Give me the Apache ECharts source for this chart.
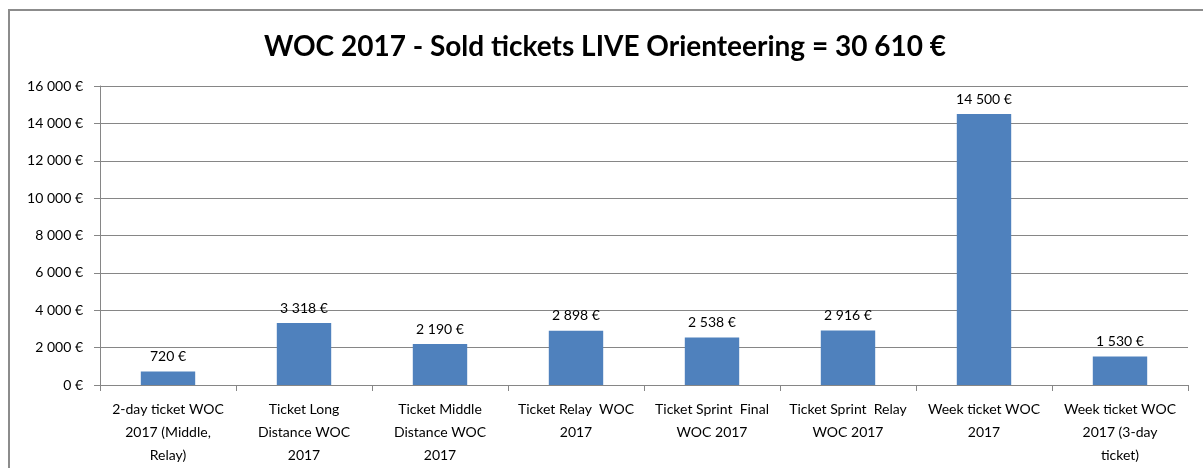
<!DOCTYPE html>
<html>
<head>
<meta charset="utf-8">
<script src="https://cdn.jsdelivr.net/npm/echarts@6/dist/echarts.min.js"></script>
<style>
    html, body { margin: 0; padding: 0; background: #fff; }
    #chart { width: 1203px; height: 468px; }
</style>
</head>
<body>
<div id="chart"></div>
<script>
    // ticket types (with the line breaks used on the axis) and sold amounts (EUR)
    var categories = [
        '2-day ticket WOC\n2017 (Middle,\nRelay)',
        'Ticket Long\nDistance WOC\n2017',
        'Ticket Middle\nDistance WOC\n2017',
        'Ticket Relay  WOC\n2017',
        'Ticket Sprint  Final\nWOC 2017',
        'Ticket Sprint  Relay\nWOC 2017',
        'Week ticket WOC\n2017',
        'Week ticket WOC\n2017 (3-day\nticket)'
    ];
    var sold = [720, 3318, 2190, 2898, 2538, 2916, 14500, 1530];
    var yTicks = [0, 2000, 4000, 6000, 8000, 10000, 12000, 14000, 16000];

    function euro(v) {
        return String(v).replace(/\B(?=(\d{3})+(?!\d))/g, ' ') + ' €';
    }

    var chart = echarts.init(document.getElementById('chart'));
    var font = 'Lato, "Open Sans", sans-serif';

    chart.setOption({
        animation: false,
        textStyle: { fontFamily: font },
        title: {
            text: 'WOC 2017 - Sold tickets LIVE Orienteering = 30 610 €',
            left: 600,
            textAlign: 'center',
            top: 28,
            textStyle: { fontSize: 28, fontWeight: 'bold', color: '#000', fontFamily: font }
        },
        graphic: [{
            type: 'rect',
            shape: { x: 9, y: 10, width: 1220, height: 480 },
            style: { fill: 'none', stroke: '#8c8c8c', lineWidth: 2 },
            silent: true
        }],
        grid: { left: 100, top: 86, width: 1088, height: 299, containLabel: false },
        xAxis: {
            type: 'category',
            data: categories,
            axisLine: { show: true, lineStyle: { color: '#868686', width: 1 } },
            axisTick: { show: true, alignWithLabel: false, length: 6, lineStyle: { color: '#868686' } },
            axisLabel: {
                interval: 0,
                color: '#000',
                fontSize: 14,
                lineHeight: 23,
                margin: 13,
                align: 'center'
            }
        },
        yAxis: {
            type: 'value',
            min: yTicks[0],
            max: yTicks[yTicks.length - 1],
            interval: 2000,
            axisLine: { show: true, lineStyle: { color: '#868686' } },
            axisTick: { show: true, length: 6, lineStyle: { color: '#868686' } },
            axisLabel: {
                color: '#000',
                fontSize: 14,
                margin: 17,
                formatter: euro
            },
            splitLine: { lineStyle: { color: '#868686', width: 1 } }
        },
        series: [{
            type: 'bar',
            data: sold,
            barWidth: '40%',
            itemStyle: { color: '#4f81bd' },
            label: {
                show: true,
                position: 'top',
                distance: 8,
                color: '#000',
                fontSize: 14,
                formatter: function (p) { return euro(p.value); }
            }
        }]
    });
</script>
</body>
</html>
